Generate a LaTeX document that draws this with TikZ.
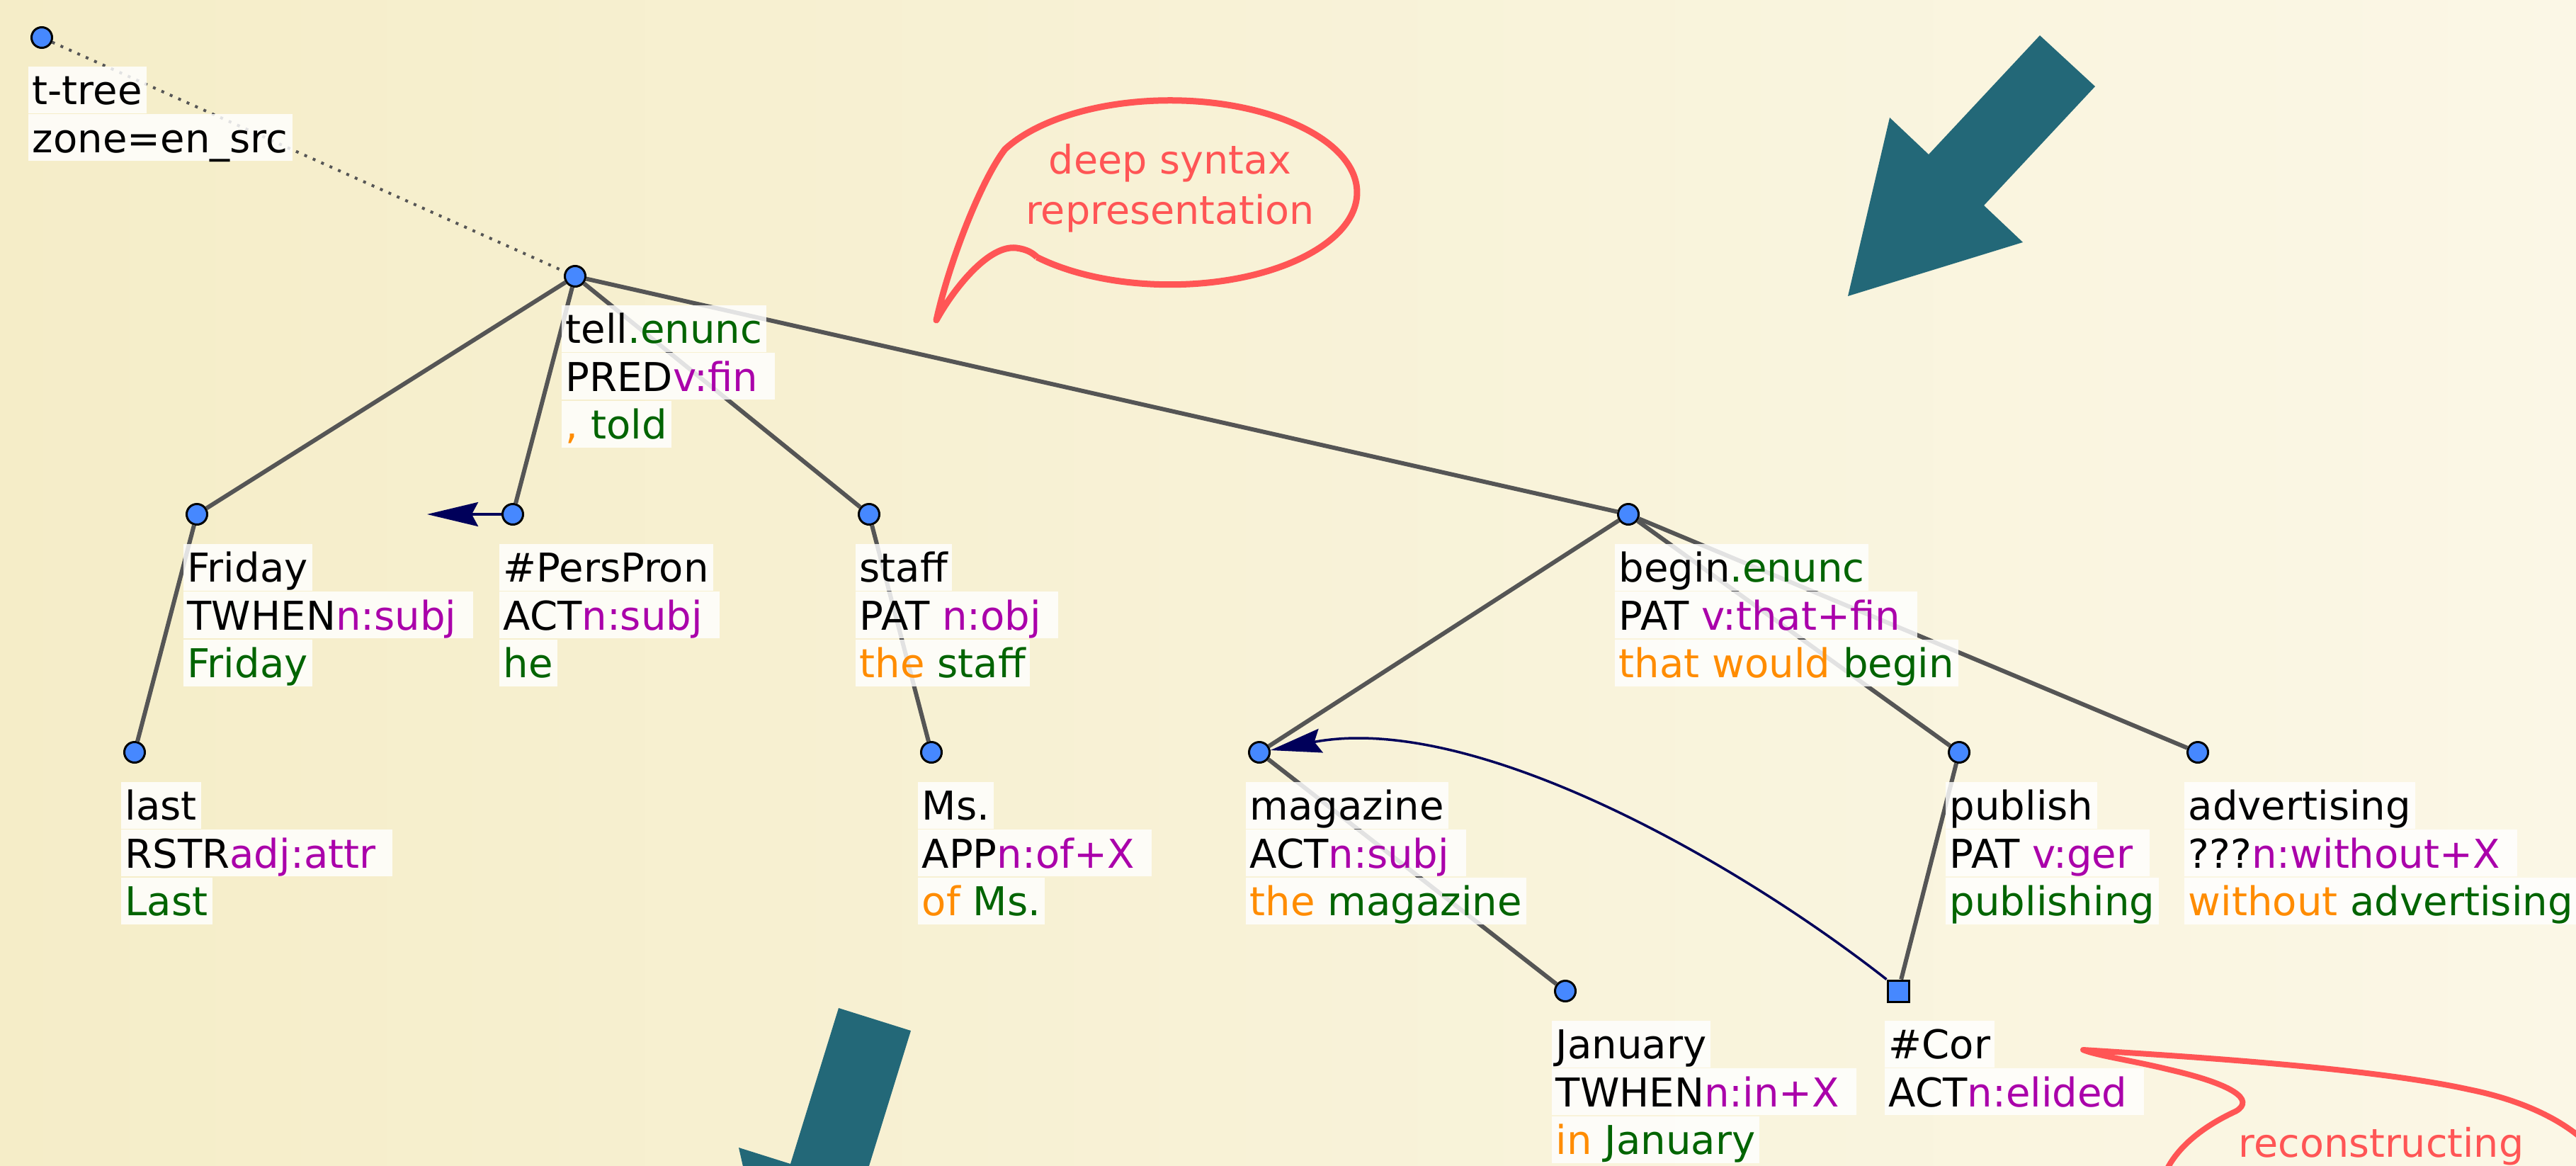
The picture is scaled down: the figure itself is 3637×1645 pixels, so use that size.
\documentclass[tikz,border=0pt]{standalone}
\usepackage{fontspec}
\setmainfont{DejaVu Sans}
\usetikzlibrary{arrows.meta}
\definecolor{bgl}{RGB}{245,237,200}
\definecolor{bgr}{RGB}{251,247,230}
\definecolor{nodeblue}{RGB}{70,136,255}
\definecolor{edgegray}{RGB}{85,85,85}
\definecolor{corefnavy}{RGB}{0,0,90}
\definecolor{calloutred}{RGB}{255,85,85}
\definecolor{arrowteal}{RGB}{35,104,120}
\definecolor{tgreen}{RGB}{0,100,0}
\definecolor{tmag}{RGB}{170,0,170}
\definecolor{torange}{RGB}{255,140,0}
\newcommand\cgreen[1]{\textcolor{tgreen}{#1}}
\newcommand\cmag[1]{\textcolor{tmag}{#1}}
\newcommand\corange[1]{\textcolor{torange}{#1}}
\begin{document}
\begin{tikzpicture}[x=0.01cm,y=-0.01cm,
  tnode/.style={circle, draw=black, line width=0.03cm, fill=nodeblue, minimum size=0.29cm, inner sep=0pt},
  cornode/.style={rectangle, draw=black, line width=0.03cm, fill=nodeblue, minimum size=0.30cm, inner sep=0pt},
  treeedge/.style={draw=edgegray, line width=0.06cm},
  lab/.style={anchor=north west, fill=white, fill opacity=0.83, text opacity=1, inner xsep=0.06cm, inner ysep=0pt,
    text height=0.54cm, text depth=0.12cm, font=\fontsize{15.95pt}{18.8pt}\selectfont},
  coref/.style={draw=corefnavy, line width=0.035cm, -{Stealth[length=0.72cm,width=0.34cm,inset=0.09cm]}},
  bubble/.style={draw=calloutred, line width=0.09cm, line join=round},
  bubbletext/.style={anchor=base, text=calloutred, inner sep=0pt, font=\fontsize{15.8pt}{18.8pt}\selectfont},
  bigarrow/.style={fill=arrowteal, draw=none}
]
\useasboundingbox (0,0) rectangle (3637,1645);
\clip (0,0) rectangle (3637,1645);
\shade[left color=bgl, right color=bgr] (0,0) rectangle (3637,1645);

% tree nodes
\node[tnode] (root) at (59,53) {};
\node[tnode] (tell) at (812,390) {};
\node[tnode] (fri) at (278,726) {};
\node[tnode] (pp) at (724,726) {};
\node[tnode] (staff) at (1227,726) {};
\node[tnode] (begin) at (2299,726) {};
\node[tnode] (last) at (190,1062) {};
\node[tnode] (ms) at (1315,1062) {};
\node[tnode] (mag) at (1778,1062) {};
\node[tnode] (pub) at (2766,1062) {};
\node[tnode] (adv) at (3103,1062) {};
\node[tnode] (jan) at (2210,1399) {};
\node[cornode] (cor) at (2680,1399) {};

% edges
\draw[edgegray, line width=0.04cm, dash pattern=on 0.04cm off 0.09cm] (root) -- (tell);
\draw[treeedge] (tell) -- (fri);
\draw[treeedge] (tell) -- (pp);
\draw[treeedge] (tell) -- (staff);
\draw[treeedge] (tell) -- (begin);
\draw[treeedge] (fri) -- (last);
\draw[treeedge] (staff) -- (ms);
\draw[treeedge] (begin) -- (mag);
\draw[treeedge] (begin) -- (pub);
\draw[treeedge] (begin) -- (adv);
\draw[treeedge] (mag) -- (jan);
\draw[treeedge] (pub) -- (cor);

% labels
\node[lab] (root-a) at ([shift={(-20,40)}]root.center) {t-tree};
\node[lab] (root-b) at (root-a.south west) {zone=en\_src};

\node[lab] (tell-a) at ([shift={(-20,40)}]tell.center) {tell\cgreen{.enunc}};
\node[lab] (tell-b) at (tell-a.south west) {PRED\cmag{v:fin\ }};
\node[lab] (tell-c) at (tell-b.south west) {\corange{,} \cgreen{told}};

\node[lab] (fri-a) at ([shift={(-20,41)}]fri.center) {Friday};
\node[lab] (fri-b) at (fri-a.south west) {TWHEN\cmag{n:subj\ }};
\node[lab] (fri-c) at (fri-b.south west) {\cgreen{Friday}};

\node[lab] (pp-a) at ([shift={(-20,41)}]pp.center) {\#PersPron};
\node[lab] (pp-b) at (pp-a.south west) {ACT\cmag{n:subj\ }};
\node[lab] (pp-c) at (pp-b.south west) {\cgreen{he}};

\node[lab] (staff-a) at ([shift={(-20,41)}]staff.center) {staff};
\node[lab] (staff-b) at (staff-a.south west) {PAT \cmag{n:obj\ }};
\node[lab] (staff-c) at (staff-b.south west) {\corange{the} \cgreen{staff}};

\node[lab] (begin-a) at ([shift={(-20,41)}]begin.center) {begin\cgreen{.enunc}};
\node[lab] (begin-b) at (begin-a.south west) {PAT \cmag{v:that+fin\ }};
\node[lab] (begin-c) at (begin-b.south west) {\corange{that would} \cgreen{begin}};

\node[lab] (last-a) at ([shift={(-20,41)}]last.center) {last};
\node[lab] (last-b) at (last-a.south west) {RSTR\cmag{adj:attr\ }};
\node[lab] (last-c) at (last-b.south west) {\cgreen{Last}};

\node[lab] (ms-a) at ([shift={(-20,41)}]ms.center) {Ms.};
\node[lab] (ms-b) at (ms-a.south west) {APP\cmag{n:of+X\ }};
\node[lab] (ms-c) at (ms-b.south west) {\corange{of} \cgreen{Ms.}};

\node[lab] (mag-a) at ([shift={(-20,41)}]mag.center) {magazine};
\node[lab] (mag-b) at (mag-a.south west) {ACT\cmag{n:subj\ }};
\node[lab] (mag-c) at (mag-b.south west) {\corange{the} \cgreen{magazine}};

\node[lab] (pub-a) at ([shift={(-20,41)}]pub.center) {publish};
\node[lab] (pub-b) at (pub-a.south west) {PAT \cmag{v:ger\ }};
\node[lab] (pub-c) at (pub-b.south west) {\cgreen{publishing}};

\node[lab] (adv-a) at ([shift={(-20,41)}]adv.center) {advertising};
\node[lab] (adv-b) at (adv-a.south west) {???\cmag{n:without+X\ }};
\node[lab] (adv-c) at (adv-b.south west) {\corange{without} \cgreen{advertising}};

\node[lab] (jan-a) at ([shift={(-20,41)}]jan.center) {January};
\node[lab] (jan-b) at (jan-a.south west) {TWHEN\cmag{n:in+X\ }};
\node[lab] (jan-c) at (jan-b.south west) {\corange{in} \cgreen{January}};

\node[lab] (cor-a) at ([shift={(-20,41)}]cor.center) {\#Cor};
\node[lab] (cor-b) at (cor-a.south west) {ACT\cmag{n:elided\ }};

% coreference arrows
\coordinate (ppant) at (603,726);
\draw[coref] (pp) -- (ppant);
\draw[coref] (cor.north west) .. controls (2450,1215) and (2080,1005) .. (mag);

% callout: deep syntax representation
\draw[bubble] (1464,363) arc[start angle=135.4, end angle=-152, x radius=264, y radius=130]
  .. controls (1385,255) and (1340,370) .. (1322,452)
  .. controls (1345,410) and (1395,345) .. (1435,350)
  .. controls (1450,352) and (1458,357) .. (1464,363);
\node[bubbletext] (ds1) at (1652,245) {deep syntax};
\node[bubbletext] (ds2) at (1652,316) {representation};

% callout: reconstructing
\draw[bubble, line width=0.08cm] (3486,1538) arc[start angle=-68.8, end angle=228.4, x radius=321, y radius=166]
  .. controls (3185,1552) and (3150,1530) .. (3063,1510)
  .. controls (3010,1497) and (2960,1490) .. (2941,1482)
  .. controls (3100,1492) and (3350,1508) .. (3486,1538);
\node[bubbletext] (rc1) at (3362,1633) {reconstructing};

% big teal arrows
\fill[bigarrow] (2880,50) -- (2958,122) -- (2801,290) -- (2856,342) -- (2609,418) -- (2668,166) -- (2723,218) -- cycle;
\fill[bigarrow] (1184,1423) -- (1286,1455) -- (1218,1675) -- (1290,1697) -- (1100,1873) -- (1043,1620) -- (1116,1643) -- cycle;
\end{tikzpicture}
\end{document}
